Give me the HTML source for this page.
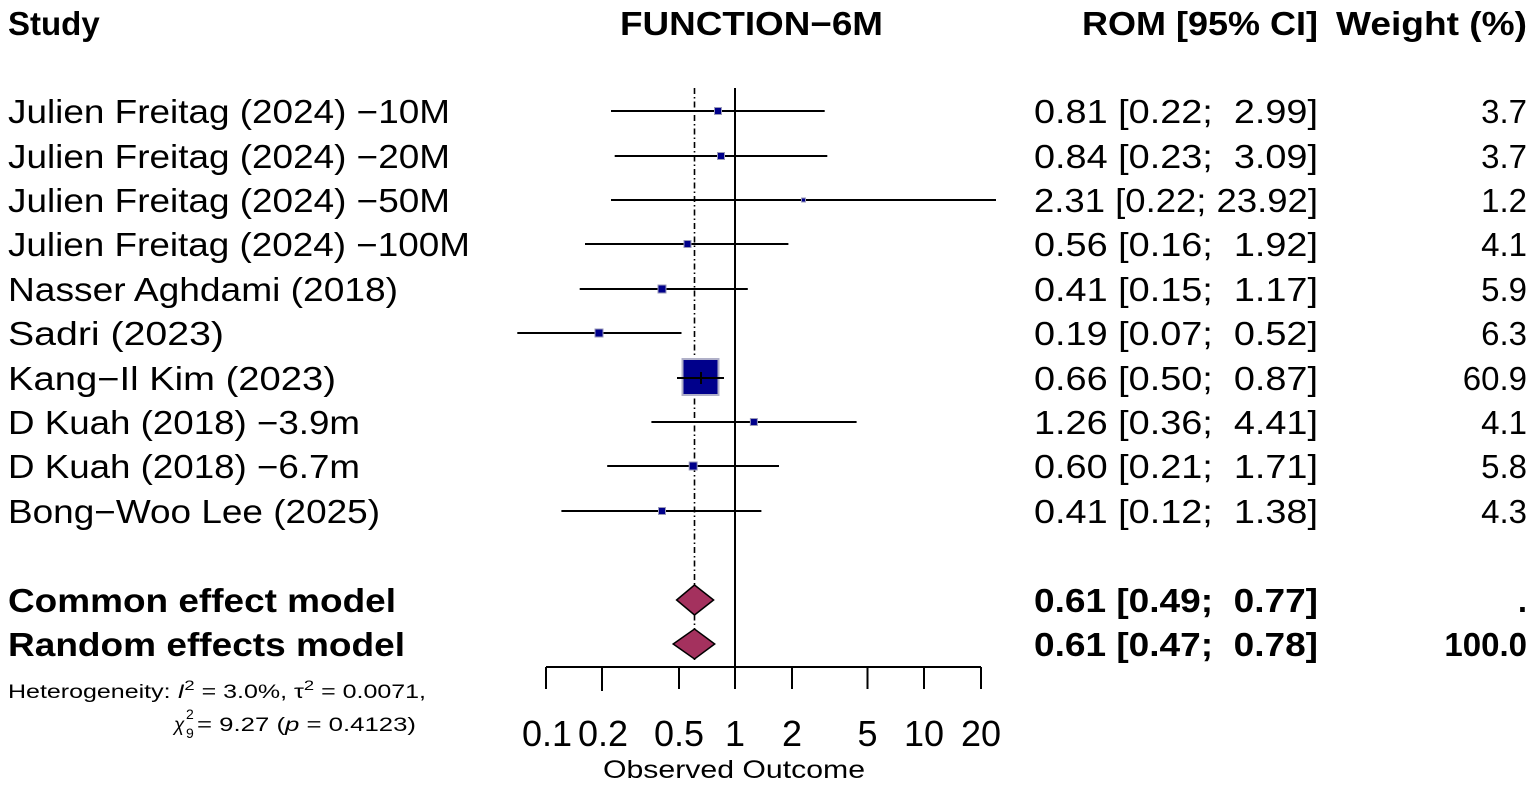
<!DOCTYPE html>
<html><head><meta charset="utf-8"><style>
html,body{margin:0;padding:0;background:#fff;}
svg{display:block;}
text{font-family:"Liberation Sans",Arial,sans-serif;fill:#000;white-space:pre;}
.b{font-weight:bold;}
</style></head><body>
<svg width="1535" height="786" viewBox="0 0 1535 786" xmlns="http://www.w3.org/2000/svg" xml:space="preserve">
<!-- headers -->
<text x="8" y="35" class="b" font-size="33">Study</text>
<text x="620" y="35" class="b" font-size="33" textLength="263" lengthAdjust="spacingAndGlyphs">FUNCTION−6M</text>
<text x="1082" y="35" class="b" font-size="33" textLength="236" lengthAdjust="spacingAndGlyphs">ROM [95% CI]</text>
<text x="1336" y="35" class="b" font-size="33" textLength="191" lengthAdjust="spacingAndGlyphs">Weight (%)</text>

<!-- reference lines -->
<line x1="735" y1="88" x2="735" y2="667" stroke="#000" stroke-width="2"/>
<line x1="694.5" y1="88" x2="694.5" y2="660" stroke="#000" stroke-width="1.6" stroke-dasharray="6,3,1.5,3"/>

<g font-size="33">
<text x="8" y="123" textLength="442" lengthAdjust="spacingAndGlyphs">Julien Freitag (2024) −10M</text>
<text x="8" y="168" textLength="442" lengthAdjust="spacingAndGlyphs">Julien Freitag (2024) −20M</text>
<text x="8" y="212" textLength="442" lengthAdjust="spacingAndGlyphs">Julien Freitag (2024) −50M</text>
<text x="8" y="256" textLength="462" lengthAdjust="spacingAndGlyphs">Julien Freitag (2024) −100M</text>
<text x="8" y="301" textLength="390" lengthAdjust="spacingAndGlyphs">Nasser Aghdami (2018)</text>
<text x="8" y="345" textLength="216" lengthAdjust="spacingAndGlyphs">Sadri (2023)</text>
<text x="8" y="390" textLength="328" lengthAdjust="spacingAndGlyphs">Kang−Il Kim (2023)</text>
<text x="8" y="434" textLength="352" lengthAdjust="spacingAndGlyphs">D Kuah (2018) −3.9m</text>
<text x="8" y="478" textLength="352" lengthAdjust="spacingAndGlyphs">D Kuah (2018) −6.7m</text>
<text x="8" y="523" textLength="372" lengthAdjust="spacingAndGlyphs">Bong−Woo Lee (2025)</text>
</g>
<g font-size="33">
<text x="1034" y="123" textLength="284" lengthAdjust="spacingAndGlyphs">0.81 [0.22;  2.99]</text>
<text x="1034" y="168" textLength="284" lengthAdjust="spacingAndGlyphs">0.84 [0.23;  3.09]</text>
<text x="1034" y="212" textLength="284" lengthAdjust="spacingAndGlyphs">2.31 [0.22; 23.92]</text>
<text x="1034" y="256" textLength="284" lengthAdjust="spacingAndGlyphs">0.56 [0.16;  1.92]</text>
<text x="1034" y="301" textLength="284" lengthAdjust="spacingAndGlyphs">0.41 [0.15;  1.17]</text>
<text x="1034" y="345" textLength="284" lengthAdjust="spacingAndGlyphs">0.19 [0.07;  0.52]</text>
<text x="1034" y="390" textLength="284" lengthAdjust="spacingAndGlyphs">0.66 [0.50;  0.87]</text>
<text x="1034" y="434" textLength="284" lengthAdjust="spacingAndGlyphs">1.26 [0.36;  4.41]</text>
<text x="1034" y="478" textLength="284" lengthAdjust="spacingAndGlyphs">0.60 [0.21;  1.71]</text>
<text x="1034" y="523" textLength="284" lengthAdjust="spacingAndGlyphs">0.41 [0.12;  1.38]</text>
</g>
<g font-size="33" text-anchor="end">
<text x="1527" y="123">3.7</text>
<text x="1527" y="168">3.7</text>
<text x="1527" y="212">1.2</text>
<text x="1527" y="256">4.1</text>
<text x="1527" y="301">5.9</text>
<text x="1527" y="345">6.3</text>
<text x="1527" y="390">60.9</text>
<text x="1527" y="434">4.1</text>
<text x="1527" y="478">5.8</text>
<text x="1527" y="523">4.3</text>
</g>
<g font-size="33">
<text x="8" y="612" class="b" textLength="388" lengthAdjust="spacingAndGlyphs">Common effect model</text>
<text x="8" y="656" class="b" textLength="397" lengthAdjust="spacingAndGlyphs">Random effects model</text>
<text x="1034" y="612" class="b" textLength="284" lengthAdjust="spacingAndGlyphs">0.61 [0.49;  0.77]</text>
<text x="1034" y="656" class="b" textLength="284" lengthAdjust="spacingAndGlyphs">0.61 [0.47;  0.78]</text>
<text x="1527" y="612" class="b" text-anchor="end">.</text>
<text x="1527" y="656" class="b" text-anchor="end">100.0</text>
</g>

<!-- CIs -->
<g stroke="#000" stroke-width="2">
<line x1="611" y1="111" x2="824.7" y2="111"/>
<line x1="614.7" y1="156" x2="827.3" y2="156"/>
<line x1="611" y1="200" x2="996" y2="200"/>
<line x1="585" y1="244" x2="788.4" y2="244"/>
<line x1="579.7" y1="289" x2="747.8" y2="289"/>
<line x1="517.3" y1="333" x2="681.5" y2="333"/>
<line x1="651.4" y1="422" x2="856.6" y2="422"/>
<line x1="607.2" y1="466" x2="779" y2="466"/>
<line x1="561.4" y1="511" x2="761.4" y2="511"/>
</g>
<g fill="#00008B" stroke="#9a9ab8" stroke-width="1">
<rect x="714.5" y="107.5" width="7" height="7"/>
<rect x="717.5" y="152.5" width="7" height="7"/>
<rect x="801.5" y="198" width="4" height="4"/>
<rect x="684" y="240.5" width="7" height="7"/>
<rect x="658" y="285" width="8" height="8"/>
<rect x="595" y="329" width="8" height="8"/>
<rect x="682.5" y="359" width="36" height="36" stroke="#b0b0c8" stroke-width="2"/>
<rect x="750.4" y="418.5" width="7" height="7"/>
<rect x="689.2" y="462" width="8" height="8"/>
<rect x="658.5" y="507.5" width="7" height="7"/>
</g>
<line x1="677" y1="378" x2="724" y2="378" stroke="#000" stroke-width="2"/>
<line x1="701" y1="372" x2="701" y2="384" stroke="#000" stroke-width="2"/>

<!-- diamonds -->
<polygon points="676.6,600 694.5,585 713.6,600 694.5,615" fill="#A4315E" stroke="#000" stroke-width="1.5"/>
<polygon points="673.2,644 694.5,629 714.7,644 694.5,659" fill="#A4315E" stroke="#000" stroke-width="1.5"/>

<!-- axis -->
<g stroke="#000" stroke-width="2">
<line x1="546" y1="667" x2="981" y2="667"/>
<line x1="546" y1="667" x2="546" y2="689"/>
<line x1="602" y1="667" x2="602" y2="691"/>
<line x1="679" y1="667" x2="679" y2="689"/>
<line x1="735" y1="667" x2="735" y2="689"/>
<line x1="792" y1="667" x2="792" y2="689"/>
<line x1="867.5" y1="667" x2="867.5" y2="689"/>
<line x1="924" y1="667" x2="924" y2="689"/>
<line x1="981" y1="667" x2="981" y2="689"/>
</g>
<g font-size="36" text-anchor="middle">
<text x="547" y="746">0.1</text>
<text x="603" y="746">0.2</text>
<text x="679" y="746">0.5</text>
<text x="735" y="746">1</text>
<text x="792" y="746">2</text>
<text x="867.5" y="746">5</text>
<text x="924" y="746">10</text>
<text x="981" y="746">20</text>
</g>
<text x="734" y="778" font-size="25" text-anchor="middle" font-family="DejaVu Sans, sans-serif" textLength="262" lengthAdjust="spacingAndGlyphs">Observed Outcome</text>

<!-- heterogeneity -->
<text x="8" y="698" font-size="19" textLength="418" lengthAdjust="spacingAndGlyphs">Heterogeneity: <tspan font-style="italic">I</tspan><tspan dy="-8" font-size="14">2</tspan><tspan dy="8"> = 3.0%, τ</tspan><tspan dy="-8" font-size="14">2</tspan><tspan dy="8"> = 0.0071,</tspan></text>
<text x="174" y="731" font-size="19" font-style="italic">χ</text>
<text x="186" y="719" font-size="14">2</text>
<text x="186" y="738" font-size="14">9</text>
<text x="197" y="731" font-size="19" textLength="219" lengthAdjust="spacingAndGlyphs">= 9.27 (<tspan font-style="italic">p</tspan> = 0.4123)</text>
</svg>
</body></html>
